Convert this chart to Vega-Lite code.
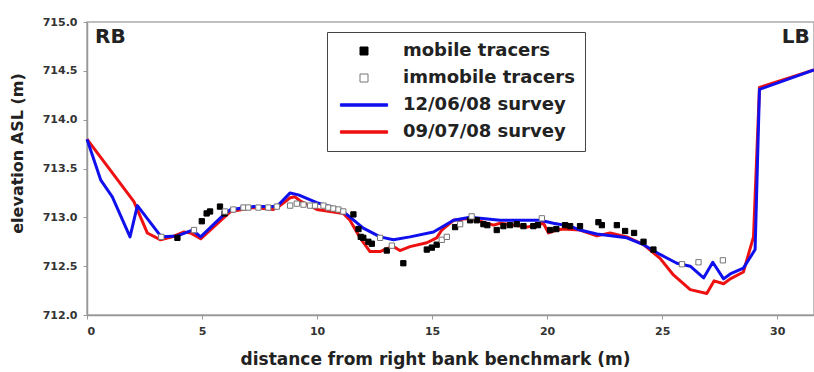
{
  "$schema": "https://vega.github.io/schema/vega-lite/v6.json",
  "width": 727,
  "height": 293,
  "autosize": {"type": "none"},
  "padding": {"left": 87, "top": 22, "right": 0, "bottom": 57},
  "background": "white",
  "config": {
    "font": "DejaVu Sans",
    "view": {"stroke": "#aaaaaa", "strokeWidth": 1.5},
    "axis": {
      "grid": false,
      "domainColor": "#999999",
      "domainWidth": 1.5,
      "tickColor": "#999999",
      "tickSize": 4,
      "labelFont": "DejaVu Sans",
      "labelFontWeight": "bold",
      "labelFontSize": 11,
      "labelColor": "#333333",
      "titleFont": "DejaVu Sans",
      "titleFontWeight": "bold",
      "titleColor": "#222222"
    },
    "legend": {
      "labelFont": "DejaVu Sans",
      "labelFontWeight": "bold",
      "labelFontSize": 18,
      "labelColor": "#222222",
      "labelLimit": 400,
      "strokeColor": "#444444",
      "padding": 10,
      "rowPadding": 9,
      "symbolSize": 64,
      "symbolStrokeWidth": 1,
      "symbolOffset": 18,
      "labelOffset": 30
    }
  },
  "datasets": {
    "surveys": [
      {"series": "09/07/08 survey", "x": 0, "y": 713.8},
      {"series": "09/07/08 survey", "x": 2.04, "y": 713.16},
      {"series": "09/07/08 survey", "x": 2.62, "y": 712.84},
      {"series": "09/07/08 survey", "x": 3.2, "y": 712.77},
      {"series": "09/07/08 survey", "x": 3.7, "y": 712.8},
      {"series": "09/07/08 survey", "x": 4.22, "y": 712.85},
      {"series": "09/07/08 survey", "x": 4.5, "y": 712.84},
      {"series": "09/07/08 survey", "x": 4.94, "y": 712.78},
      {"series": "09/07/08 survey", "x": 5.96, "y": 713.0},
      {"series": "09/07/08 survey", "x": 6.25, "y": 713.06},
      {"series": "09/07/08 survey", "x": 7.26, "y": 713.1},
      {"series": "09/07/08 survey", "x": 8.1, "y": 713.08},
      {"series": "09/07/08 survey", "x": 8.39, "y": 713.12},
      {"series": "09/07/08 survey", "x": 8.83, "y": 713.2},
      {"series": "09/07/08 survey", "x": 9.04, "y": 713.21},
      {"series": "09/07/08 survey", "x": 9.26, "y": 713.17},
      {"series": "09/07/08 survey", "x": 9.99, "y": 713.08},
      {"series": "09/07/08 survey", "x": 11.14, "y": 713.04},
      {"series": "09/07/08 survey", "x": 11.43, "y": 712.97},
      {"series": "09/07/08 survey", "x": 11.87, "y": 712.79},
      {"series": "09/07/08 survey", "x": 12.3, "y": 712.65},
      {"series": "09/07/08 survey", "x": 12.74, "y": 712.65},
      {"series": "09/07/08 survey", "x": 13.03, "y": 712.68},
      {"series": "09/07/08 survey", "x": 13.32, "y": 712.7},
      {"series": "09/07/08 survey", "x": 13.6, "y": 712.66},
      {"series": "09/07/08 survey", "x": 14.04, "y": 712.7},
      {"series": "09/07/08 survey", "x": 14.77, "y": 712.74},
      {"series": "09/07/08 survey", "x": 15.2, "y": 712.79},
      {"series": "09/07/08 survey", "x": 15.42, "y": 712.87},
      {"series": "09/07/08 survey", "x": 15.93, "y": 712.97},
      {"series": "09/07/08 survey", "x": 16.65, "y": 712.99},
      {"series": "09/07/08 survey", "x": 17.67, "y": 712.92},
      {"series": "09/07/08 survey", "x": 17.96, "y": 712.94},
      {"series": "09/07/08 survey", "x": 19.12, "y": 712.9},
      {"series": "09/07/08 survey", "x": 19.84, "y": 712.94},
      {"series": "09/07/08 survey", "x": 20.06, "y": 712.84},
      {"series": "09/07/08 survey", "x": 20.42, "y": 712.87},
      {"series": "09/07/08 survey", "x": 20.71, "y": 712.88},
      {"series": "09/07/08 survey", "x": 21.43, "y": 712.87},
      {"series": "09/07/08 survey", "x": 22.16, "y": 712.81},
      {"series": "09/07/08 survey", "x": 22.74, "y": 712.84},
      {"series": "09/07/08 survey", "x": 23.46, "y": 712.8},
      {"series": "09/07/08 survey", "x": 24.19, "y": 712.72},
      {"series": "09/07/08 survey", "x": 24.91, "y": 712.58},
      {"series": "09/07/08 survey", "x": 25.49, "y": 712.41},
      {"series": "09/07/08 survey", "x": 26.22, "y": 712.26},
      {"series": "09/07/08 survey", "x": 26.94, "y": 712.22},
      {"series": "09/07/08 survey", "x": 27.26, "y": 712.35},
      {"series": "09/07/08 survey", "x": 27.67, "y": 712.32},
      {"series": "09/07/08 survey", "x": 27.96, "y": 712.37},
      {"series": "09/07/08 survey", "x": 28.53, "y": 712.44},
      {"series": "09/07/08 survey", "x": 28.97, "y": 712.8},
      {"series": "09/07/08 survey", "x": 29.23, "y": 714.33},
      {"series": "09/07/08 survey", "x": 31.6, "y": 714.51},
      {"series": "12/06/08 survey", "x": 0, "y": 713.8},
      {"series": "12/06/08 survey", "x": 0.6, "y": 713.38},
      {"series": "12/06/08 survey", "x": 1.1, "y": 713.21},
      {"series": "12/06/08 survey", "x": 1.87, "y": 712.8},
      {"series": "12/06/08 survey", "x": 2.19, "y": 713.12},
      {"series": "12/06/08 survey", "x": 3.23, "y": 712.8},
      {"series": "12/06/08 survey", "x": 3.93, "y": 712.81},
      {"series": "12/06/08 survey", "x": 4.58, "y": 712.87},
      {"series": "12/06/08 survey", "x": 4.94, "y": 712.8},
      {"series": "12/06/08 survey", "x": 5.96, "y": 713.03},
      {"series": "12/06/08 survey", "x": 6.25, "y": 713.08},
      {"series": "12/06/08 survey", "x": 7.26, "y": 713.11},
      {"series": "12/06/08 survey", "x": 8.25, "y": 713.11},
      {"series": "12/06/08 survey", "x": 8.83, "y": 713.25},
      {"series": "12/06/08 survey", "x": 9.19, "y": 713.23},
      {"series": "12/06/08 survey", "x": 9.99, "y": 713.15},
      {"series": "12/06/08 survey", "x": 11.0, "y": 713.08},
      {"series": "12/06/08 survey", "x": 11.29, "y": 713.03},
      {"series": "12/06/08 survey", "x": 12.01, "y": 712.89},
      {"series": "12/06/08 survey", "x": 12.74, "y": 712.8},
      {"series": "12/06/08 survey", "x": 13.32, "y": 712.77},
      {"series": "12/06/08 survey", "x": 14.04, "y": 712.8},
      {"series": "12/06/08 survey", "x": 15.06, "y": 712.85},
      {"series": "12/06/08 survey", "x": 15.93, "y": 712.97},
      {"series": "12/06/08 survey", "x": 16.65, "y": 713.0},
      {"series": "12/06/08 survey", "x": 17.96, "y": 712.97},
      {"series": "12/06/08 survey", "x": 19.7, "y": 712.97},
      {"series": "12/06/08 survey", "x": 20.27, "y": 712.94},
      {"series": "12/06/08 survey", "x": 21.0, "y": 712.91},
      {"series": "12/06/08 survey", "x": 21.43, "y": 712.87},
      {"series": "12/06/08 survey", "x": 22.16, "y": 712.83},
      {"series": "12/06/08 survey", "x": 23.46, "y": 712.79},
      {"series": "12/06/08 survey", "x": 24.19, "y": 712.72},
      {"series": "12/06/08 survey", "x": 24.91, "y": 712.62},
      {"series": "12/06/08 survey", "x": 25.64, "y": 712.53},
      {"series": "12/06/08 survey", "x": 26.22, "y": 712.5},
      {"series": "12/06/08 survey", "x": 26.8, "y": 712.38},
      {"series": "12/06/08 survey", "x": 27.2, "y": 712.54},
      {"series": "12/06/08 survey", "x": 27.67, "y": 712.37},
      {"series": "12/06/08 survey", "x": 27.96, "y": 712.42},
      {"series": "12/06/08 survey", "x": 28.53, "y": 712.48},
      {"series": "12/06/08 survey", "x": 29.04, "y": 712.67},
      {"series": "12/06/08 survey", "x": 29.23, "y": 714.31},
      {"series": "12/06/08 survey", "x": 31.6, "y": 714.51}
    ],
    "tracers": [
      {"series": "mobile tracers", "x": 3.93, "y": 712.79},
      {"series": "mobile tracers", "x": 4.99, "y": 712.96},
      {"series": "mobile tracers", "x": 5.2, "y": 713.04},
      {"series": "mobile tracers", "x": 5.35, "y": 713.06},
      {"series": "mobile tracers", "x": 5.78, "y": 713.11},
      {"series": "mobile tracers", "x": 5.98, "y": 713.04},
      {"series": "mobile tracers", "x": 11.58, "y": 713.03},
      {"series": "mobile tracers", "x": 11.8, "y": 712.88},
      {"series": "mobile tracers", "x": 11.9, "y": 712.8},
      {"series": "mobile tracers", "x": 12.01, "y": 712.79},
      {"series": "mobile tracers", "x": 12.23, "y": 712.75},
      {"series": "mobile tracers", "x": 12.38, "y": 712.73},
      {"series": "mobile tracers", "x": 13.03, "y": 712.66},
      {"series": "mobile tracers", "x": 13.75, "y": 712.53},
      {"series": "mobile tracers", "x": 14.77, "y": 712.67},
      {"series": "mobile tracers", "x": 14.99, "y": 712.69},
      {"series": "mobile tracers", "x": 15.2, "y": 712.72},
      {"series": "mobile tracers", "x": 16.0, "y": 712.9},
      {"series": "mobile tracers", "x": 16.65, "y": 712.97},
      {"series": "mobile tracers", "x": 16.94, "y": 712.97},
      {"series": "mobile tracers", "x": 17.23, "y": 712.93},
      {"series": "mobile tracers", "x": 17.4, "y": 712.92},
      {"series": "mobile tracers", "x": 17.81, "y": 712.87},
      {"series": "mobile tracers", "x": 18.1, "y": 712.91},
      {"series": "mobile tracers", "x": 18.39, "y": 712.92},
      {"series": "mobile tracers", "x": 18.68, "y": 712.93},
      {"series": "mobile tracers", "x": 18.97, "y": 712.91},
      {"series": "mobile tracers", "x": 19.4, "y": 712.91},
      {"series": "mobile tracers", "x": 19.6, "y": 712.92},
      {"series": "mobile tracers", "x": 20.13, "y": 712.87},
      {"series": "mobile tracers", "x": 20.4, "y": 712.88},
      {"series": "mobile tracers", "x": 20.78, "y": 712.92},
      {"series": "mobile tracers", "x": 21.0, "y": 712.91},
      {"series": "mobile tracers", "x": 21.43, "y": 712.91},
      {"series": "mobile tracers", "x": 22.23, "y": 712.95},
      {"series": "mobile tracers", "x": 22.38, "y": 712.92},
      {"series": "mobile tracers", "x": 23.03, "y": 712.92},
      {"series": "mobile tracers", "x": 23.39, "y": 712.86},
      {"series": "mobile tracers", "x": 23.78, "y": 712.84},
      {"series": "mobile tracers", "x": 24.19, "y": 712.75},
      {"series": "mobile tracers", "x": 24.62, "y": 712.67},
      {"series": "immobile tracers", "x": 3.23, "y": 712.8},
      {"series": "immobile tracers", "x": 4.65, "y": 712.87},
      {"series": "immobile tracers", "x": 6.0, "y": 713.06},
      {"series": "immobile tracers", "x": 6.36, "y": 713.08},
      {"series": "immobile tracers", "x": 6.8, "y": 713.1},
      {"series": "immobile tracers", "x": 7.01, "y": 713.1},
      {"series": "immobile tracers", "x": 7.45, "y": 713.1},
      {"series": "immobile tracers", "x": 7.88, "y": 713.1},
      {"series": "immobile tracers", "x": 8.25, "y": 713.11},
      {"series": "immobile tracers", "x": 8.83, "y": 713.12},
      {"series": "immobile tracers", "x": 9.12, "y": 713.14},
      {"series": "immobile tracers", "x": 9.41, "y": 713.13},
      {"series": "immobile tracers", "x": 9.7, "y": 713.12},
      {"series": "immobile tracers", "x": 9.91, "y": 713.12},
      {"series": "immobile tracers", "x": 10.28, "y": 713.12},
      {"series": "immobile tracers", "x": 10.49, "y": 713.1},
      {"series": "immobile tracers", "x": 10.71, "y": 713.09},
      {"series": "immobile tracers", "x": 10.93, "y": 713.08},
      {"series": "immobile tracers", "x": 11.14, "y": 713.06},
      {"series": "immobile tracers", "x": 12.74, "y": 712.79},
      {"series": "immobile tracers", "x": 13.25, "y": 712.71},
      {"series": "immobile tracers", "x": 15.42, "y": 712.77},
      {"series": "immobile tracers", "x": 15.64, "y": 712.8},
      {"series": "immobile tracers", "x": 16.22, "y": 712.93},
      {"series": "immobile tracers", "x": 16.72, "y": 713.01},
      {"series": "immobile tracers", "x": 19.77, "y": 712.99},
      {"series": "immobile tracers", "x": 25.86, "y": 712.52},
      {"series": "immobile tracers", "x": 26.58, "y": 712.54},
      {"series": "immobile tracers", "x": 27.64, "y": 712.56}
    ],
    "banks": [
      {"x": 0.35, "y": 714.85, "label": "RB"},
      {"x": 30.2, "y": 714.85, "label": "LB"}
    ]
  },
  "encoding": {
    "x": {
      "field": "x",
      "type": "quantitative",
      "scale": {"domain": [0, 31.6], "nice": false, "zero": false},
      "axis": {"values": [0, 5, 10, 15, 20, 25, 30], "title": "distance from right bank benchmark (m)", "labelPadding": 6, "titlePadding": 15, "titleFontSize": 17, "titleX": 348}
    },
    "y": {
      "field": "y",
      "type": "quantitative",
      "scale": {"domain": [712, 715], "nice": false, "zero": false},
      "axis": {"values": [712, 712.5, 713, 713.5, 714, 714.5, 715], "format": ".1f", "title": "elevation ASL (m)", "labelPadding": 6, "titlePadding": 17, "titleFontSize": 16, "titleY": 131}
    }
  },
  "layer": [
    {
      "data": {"name": "surveys"},
      "mark": {"type": "line", "strokeWidth": 3, "strokeJoin": "round"},
      "encoding": {
        "stroke": {
          "field": "series",
          "type": "nominal",
          "scale": {
            "domain": ["mobile tracers", "immobile tracers", "12/06/08 survey", "09/07/08 survey"],
            "range": ["#000000", "#777777", "#1010ee", "#ee1111"]
          },
          "legend": {"title": null, "orient": "none", "legendX": 240, "legendY": 10}
        },
        "detail": {"field": "series", "type": "nominal"}
      }
    },
    {
      "data": {"name": "tracers"},
      "mark": {"type": "point", "size": 28, "opacity": 1, "strokeWidth": 1},
      "encoding": {
        "stroke": {
          "field": "series",
          "type": "nominal",
          "scale": {
            "domain": ["mobile tracers", "immobile tracers", "12/06/08 survey", "09/07/08 survey"],
            "range": ["#000000", "#777777", "#1010ee", "#ee1111"]
          },
          "legend": {"title": null, "orient": "none", "legendX": 240, "legendY": 10}
        },
        "fill": {
          "field": "series",
          "type": "nominal",
          "scale": {
            "domain": ["mobile tracers", "immobile tracers", "12/06/08 survey", "09/07/08 survey"],
            "range": ["#000000", "#ffffff", "#1010ee", "#ee1111"]
          },
          "legend": {"title": null, "orient": "none", "legendX": 240, "legendY": 10}
        },
        "shape": {
          "field": "series",
          "type": "nominal",
          "scale": {
            "domain": ["mobile tracers", "immobile tracers", "12/06/08 survey", "09/07/08 survey"],
            "range": ["square", "square", "M-5.9,-0.3H5.9V0.3H-5.9Z", "M-5.9,-0.3H5.9V0.3H-5.9Z"]
          },
          "legend": {"title": null, "orient": "none", "legendX": 240, "legendY": 10}
        }
      }
    },
    {
      "data": {"name": "banks"},
      "mark": {"type": "text", "align": "left", "baseline": "middle", "fontSize": 20, "fontWeight": "bold", "font": "DejaVu Sans", "color": "#222222"},
      "encoding": {
        "text": {"field": "label", "type": "nominal"}
      }
    }
  ]
}
